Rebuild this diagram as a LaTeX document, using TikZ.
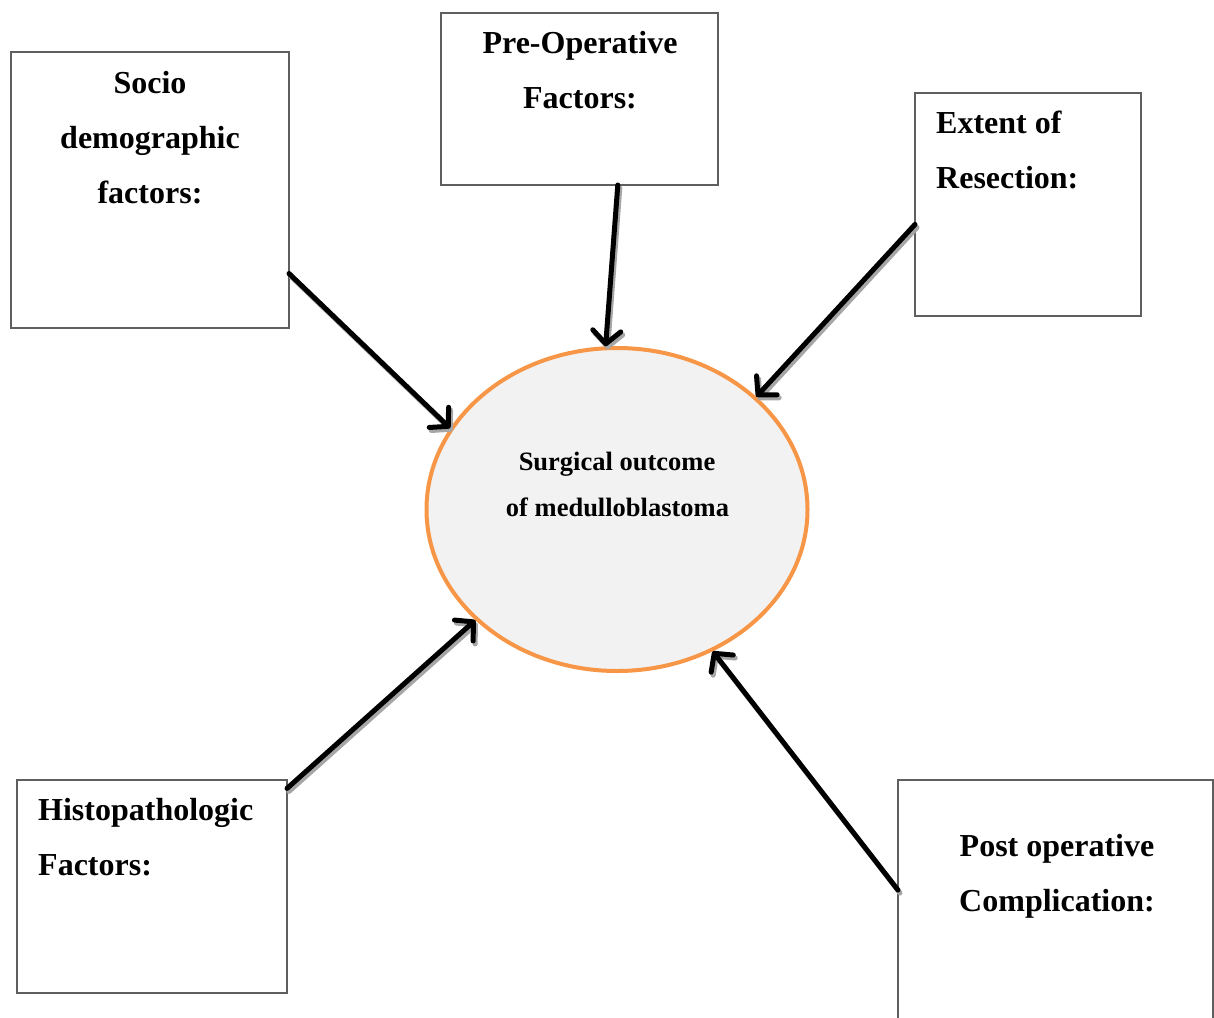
\documentclass[tikz,border=0pt]{standalone}
\usepackage{fontspec}
\setmainfont{Liberation Serif}
\usetikzlibrary{arrows.meta,shapes.geometric}
\definecolor{boxgray}{HTML}{5F5F5F}
\definecolor{orangeline}{HTML}{F79646}
\definecolor{ellfill}{HTML}{F2F2F2}
\definecolor{shadowgray}{HTML}{A6A6A6}
\begin{document}
\begin{tikzpicture}[x=1pt,y=-1pt,
  box/.style={draw=boxgray,line width=2pt,fill=white,inner sep=0pt,outer sep=0pt},
  lbl/.style={font=\fontsize{32}{38}\selectfont\bfseries,inner sep=0pt,anchor=base},
  lblw/.style={lbl,anchor=base west},
  clbl/.style={font=\fontsize{26.5}{32}\selectfont\bfseries,inner sep=0pt,anchor=base},
  conn/.style={line width=5pt,line cap=round,-{Straight Barb[length=13pt,width=28pt,round]}},
  shadowconn/.style={conn,draw=shadowgray,transform canvas={shift={(2,3)}}}]
\useasboundingbox (0,0) rectangle (1214,1017);
% ellipse
\node[ellipse,draw=orangeline,line width=4pt,fill=ellfill,minimum width=381pt,minimum height=323pt,inner sep=0pt] (el) at (617,509.5) {};
\node[clbl] (c1) at (617,470) {Surgical outcome};
\node[clbl] (c2) at (617.5,516) {of medulloblastoma};
% boxes
\node[box,minimum width=278pt,minimum height=276pt] (soc) at (150,190) {};
\node[box,minimum width=277pt,minimum height=172pt] (pre) at (579.5,99) {};
\node[box,minimum width=226pt,minimum height=223pt] (ext) at (1028,204.5) {};
\node[box,minimum width=270pt,minimum height=213pt] (his) at (152,886.5) {};
\node[box,minimum width=315pt,minimum height=270pt] (pos) at (1055.5,915) {};
% labels
\node[lbl] (s1) at (150,93) {Socio};
\node[lbl] (s2) at (150,148) {demographic};
\node[lbl] (s3) at (150,203) {factors:};
\node[lbl] (p1) at (580,53) {Pre-Operative};
\node[lbl] (p2) at (580,108) {Factors:};
\node[lblw] (e1) at (936,133) {Extent of};
\node[lblw] (e2) at (936,188) {Resection:};
\node[lblw] (h1) at (38,820) {Histopathologic};
\node[lblw] (h2) at (38,875) {Factors:};
\node[lbl] (o1) at (1057,856) {Post operative};
\node[lbl] (o2) at (1057,911) {Complication:};
% connectors
\foreach \a/\b in {soc.-31/el.154, pre.-66/el.94, ext.190/el.39, his.36/el.218, pos.171/el.304}{
  \draw[shadowconn] (\a) -- (\b);
  \draw[conn] (\a) -- (\b);
}
\end{tikzpicture}
\end{document}
